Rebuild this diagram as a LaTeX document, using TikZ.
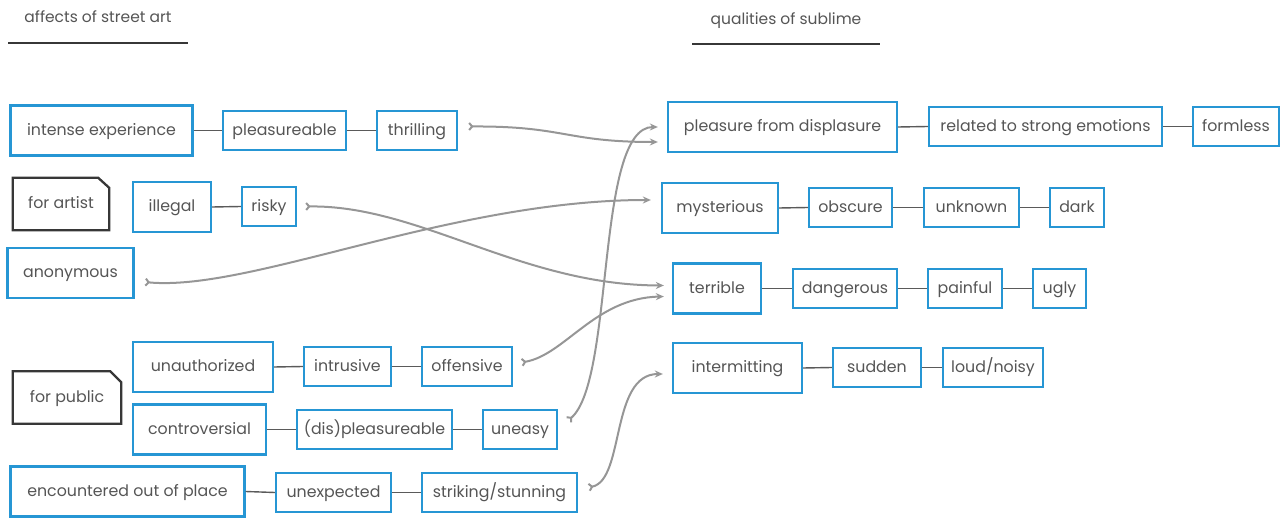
\documentclass[tikz,border=0pt]{standalone}
\usepackage{fontspec}
\setmainfont{Poppins}
\usetikzlibrary{arrows.meta}
\definecolor{boxblue}{RGB}{38,150,212}
\definecolor{txtgray}{RGB}{85,85,85}
\definecolor{linkgray}{RGB}{90,90,90}
\definecolor{arrgray}{RGB}{150,150,150}
\definecolor{tagdark}{RGB}{55,55,55}
\begin{document}
\begin{tikzpicture}[x=1pt,y=-1pt,
  every node/.style={font=\fontsize{15.8}{18}\selectfont, text=txtgray, inner sep=0pt, text height=12.5pt, text depth=2.5pt},
  bx/.style={draw=boxblue, line width=2.3pt, minimum height=39pt},
  bigbx/.style={draw=boxblue, line width=2.3pt, minimum height=50pt},
  tag/.style={minimum width=96pt, minimum height=52pt},
  tagline/.style={draw=tagdark, line width=2.3pt, line join=miter},
  link/.style={draw=linkgray, line width=1.4pt},
  arr/.style={draw=arrgray, line width=2pt, {Straight Barb[reversed,length=3pt,width=7pt]}-{Stealth[length=8pt,width=7pt]}},
  title/.style={font=\fontsize{15.5}{18}\selectfont},
  rule/.style={draw=tagdark, line width=2.4pt}]
\useasboundingbox (0,0) rectangle (1285,518);

% titles
\node[title] (t1) at (98,18) {affects of street art};
\draw[rule] (8,43) -- (188,43);
\node[title] (t2) at (786,20) {qualities of sublime};
\draw[rule] (692,44) -- (880,44);

% left side
\node[bigbx, minimum width=182pt] (ie) at (101.5,130.5) {intense experience};
\node[bx, minimum width=123pt] (pl) at (284.5,130.5) {pleasureable};
\node[bx, minimum width=80pt] (th) at (417,130.5) {thrilling};

\node[tag] (fa) at (61,204) {for artist};
\draw[tagline] (fa.south west) -- (fa.north west) -- ([xshift=-11pt]fa.north east) -- ([yshift=-10pt]fa.north east) -- (fa.south east) -- cycle;
\node[bigbx, minimum width=78pt] (il) at (172,207) {illegal};
\node[bx, minimum width=54pt] (ri) at (269,206.5) {risky};
\node[bigbx, minimum width=126pt] (an) at (70.5,273) {anonymous};

\node[tag, minimum width=108pt] (fp) at (67,397.5) {for public};
\draw[tagline] (fp.south west) -- (fp.north west) -- ([xshift=-11pt]fp.north east) -- ([yshift=-11pt]fp.north east) -- (fp.south east) -- cycle;
\node[bigbx, minimum width=140pt] (ua) at (203,367) {unauthorized};
\node[bx, minimum width=87pt] (in) at (347.5,366.5) {intrusive};
\node[bx, minimum width=90pt] (of) at (467,366.5) {offensive};
\node[bigbx, minimum width=133pt] (co) at (199.5,429.5) {controversial};
\node[bx, minimum width=155pt] (dp) at (374.5,429.5) {(dis)pleasureable};
\node[bx, minimum width=74pt] (un) at (520,429.5) {uneasy};
\node[bigbx, minimum width=234pt] (eo) at (127.5,491.5) {encountered out of place};
\node[bx, minimum width=115pt] (ux) at (333.5,492.5) {unexpected};
\node[bx, minimum width=155pt] (st) at (499.5,492.5) {striking/stunning};

% right side
\node[bigbx, minimum width=229pt] (pd) at (782.5,127) {pleasure from displasure};
\node[bx, minimum width=233pt] (rs) at (1045.5,126.5) {related to strong emotions};
\node[bx, minimum width=86pt] (fo) at (1236,126.5) {formless};

\node[bigbx, minimum width=116pt] (my) at (720,208) {mysterious};
\node[bx, minimum width=83pt] (ob) at (850.5,207.5) {obscure};
\node[bx, minimum width=95pt] (uk) at (971.5,207.5) {unknown};
\node[bx, minimum width=54pt] (dk) at (1077,207.5) {dark};

\node[bigbx, minimum width=88pt] (te) at (717,288.5) {terrible};
\node[bx, minimum width=104pt] (dg) at (845,288.5) {dangerous};
\node[bx, minimum width=74pt] (pa) at (965,288.5) {painful};
\node[bx, minimum width=53pt] (ug) at (1059.5,288.5) {ugly};

\node[bigbx, minimum width=129pt] (im) at (737.5,368) {intermitting};
\node[bx, minimum width=88pt] (su) at (877,367.5) {sudden};
\node[bx, minimum width=100pt] (ld) at (993,367.5) {loud/noisy};

% chain links
\foreach \a/\b in {ie/pl,pl/th,il/ri,ua/in,in/of,co/dp,dp/un,eo/ux,ux/st,
                   pd/rs,rs/fo,my/ob,ob/uk,uk/dk,te/dg,dg/pa,pa/ug,im/su,su/ld}
  \draw[link] (\a.east) -- (\b.west);

% coordinates for arrow ends (canvas yshift: positive = up)
\coordinate (thS) at ([xshift=10pt,yshift=4pt]th.east);
\coordinate (riS) at ([xshift=8pt]ri.east);
\coordinate (anS) at ([xshift=10pt,yshift=-9pt]an.east);
\coordinate (ofS) at ([xshift=8pt,yshift=4pt]of.east);
\coordinate (unS) at ([xshift=10pt,yshift=9pt]un.east);
\coordinate (stS) at ([xshift=10pt,yshift=5pt]st.east);
\coordinate (pdA) at ([xshift=-9pt]pd.west);
\coordinate (pdB) at ([xshift=-9pt,yshift=-15pt]pd.west);
\coordinate (myA) at ([xshift=-10pt,yshift=8pt]my.west);
\coordinate (teA) at ([xshift=-8pt,yshift=3pt]te.west);
\coordinate (teB) at ([xshift=-8pt,yshift=-8pt]te.west);
\coordinate (imA) at ([xshift=-9pt,yshift=-6pt]im.west);

% cross arrows
\draw[arr] (thS) .. controls (565,126) and (565,142) .. (pdB);
\draw[arr] (unS) .. controls (615,380) and (595,127) .. (pdA);
\draw[arr] (anS) .. controls (250,292) and (450,200) .. (myA);
\draw[arr] (riS) .. controls (420,205) and (520,285) .. (teA);
\draw[arr] (ofS) .. controls (565,355) and (595,298) .. (teB);
\draw[arr] (stS) .. controls (625,480) and (610,374) .. (imA);
\end{tikzpicture}
\end{document}
